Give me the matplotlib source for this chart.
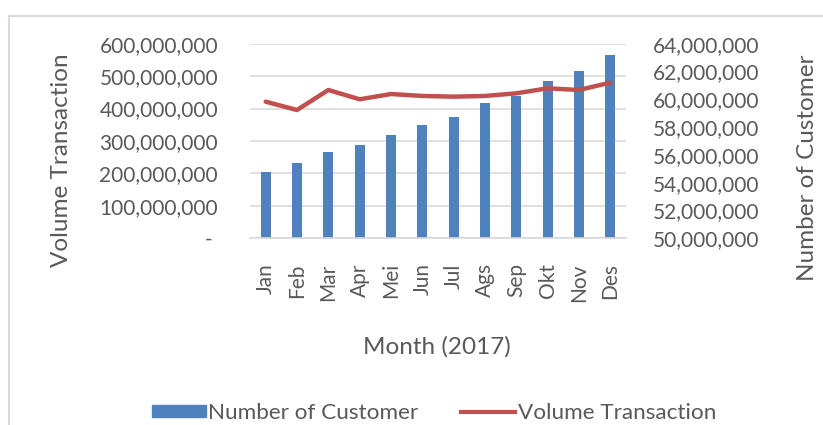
import matplotlib
matplotlib.use("Agg")
import matplotlib.pyplot as plt
from matplotlib.lines import Line2D
from matplotlib.patches import Patch
from matplotlib.ticker import FuncFormatter, MultipleLocator

plt.rcParams['font.family'] = ['Lato', 'DejaVu Sans']

months = ['Jan', 'Feb', 'Mar', 'Apr', 'Mei', 'Jun', 'Jul', 'Ags', 'Sep', 'Okt', 'Nov', 'Des']
# bars (read on the left scale)
customers = [205e6, 231e6, 267e6, 287e6, 318e6, 349e6, 373e6, 418e6, 439e6, 484e6, 515e6, 566e6]
# line (read on the right scale)
volume = [59.83e6, 59.23e6, 60.67e6, 60.0e6, 60.38e6, 60.24e6, 60.19e6, 60.24e6, 60.43e6, 60.79e6, 60.67e6, 61.2e6]

txt = '#595959'
blue = '#4F81BD'
red = '#C0504D'
fs = 15
title_fs = 17.5

fig = plt.figure(figsize=(8.23, 4.25), dpi=100)
ax = fig.add_axes([250/823, 1-238.3/425, 376/823, (238.3-43.7)/425])
ax2 = ax.twinx()

x = range(len(months))
ax.bar(x, customers, width=0.32, color=blue, zorder=2)
ax2.plot(x, volume, color=red, lw=3.2, solid_capstyle='round', zorder=3)

ax.set_xlim(-0.5, len(months) - 0.5)
ax.set_ylim(0, 600e6)
ax.yaxis.set_major_locator(MultipleLocator(100e6))
ax.yaxis.set_major_formatter(FuncFormatter(lambda v, p: '- ' if v == 0 else f'{v:,.0f}'))
ax2.set_ylim(50e6, 64e6)
ax2.yaxis.set_major_locator(MultipleLocator(2e6))
ax2.yaxis.set_major_formatter(FuncFormatter(lambda v, p: f'{v:,.0f}'))

ax.set_xticks(list(x))
ax.set_xticklabels(months, rotation=90)
ax.grid(axis='y', color='#D9D9D9', lw=1.2, zorder=0)
ax.set_axisbelow(True)

for a in (ax, ax2):
    for s in a.spines.values():
        s.set_visible(False)
    a.tick_params(length=0, colors=txt, labelsize=fs)
ax.spines['bottom'].set_visible(True)
ax.spines['bottom'].set_color('#D9D9D9')
ax.spines['bottom'].set_linewidth(1.2)
ax.tick_params(axis='y', pad=23)
ax.tick_params(axis='x', pad=18)
ax2.tick_params(axis='y', pad=19)

fig.text(61/823, 1-160/425, 'Volume Transaction', rotation=90, ha='center', va='center',
         color=txt, fontsize=title_fs)
fig.text(807/823, 1-168/425, 'Number of Customer', rotation=90, ha='center', va='center',
         color=txt, fontsize=title_fs)
fig.text(437/823, 1-347/425, 'Month (2017)', ha='center', va='center', color=txt, fontsize=title_fs)

handles = [Patch(color=blue), Line2D([], [], color=red, lw=3)]
fig.legend(handles, ['Number of Customer', 'Volume Transaction'], loc='center',
           bbox_to_anchor=(434/823, 1-413/425), ncol=2, frameon=False, fontsize=16.2,
           labelcolor=txt, handlelength=2.4, handleheight=0.45, handletextpad=0.1,
           columnspacing=1.9)

# chart frame
fig.add_artist(Line2D([9/823, 1], [1-16/425, 1-16/425], color='#D9D9D9', lw=1.5))
fig.add_artist(Line2D([9/823, 9/823], [0, 1-16/425], color='#D9D9D9', lw=1.5))

fig.savefig('out.png', dpi=100)
